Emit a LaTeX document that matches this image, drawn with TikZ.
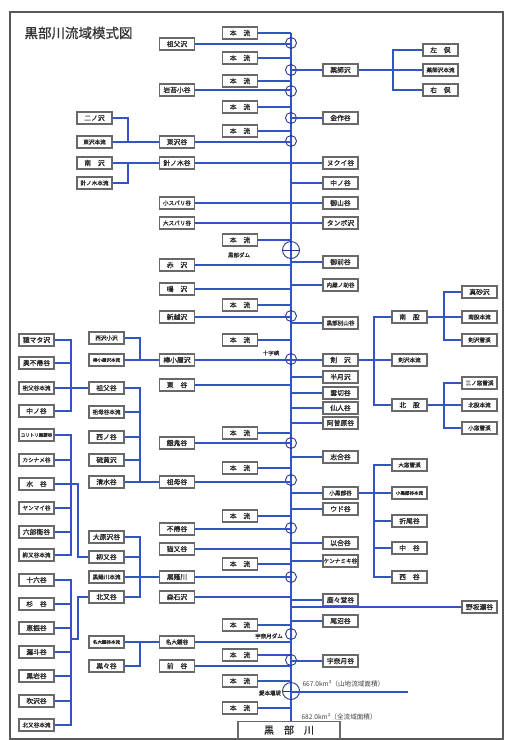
\documentclass[tikz,border=0pt]{standalone}
\usepackage{fontspec}
\setmainfont{Noto Sans CJK JP}
\newfontfamily\jpbold{Noto Sans CJK JP}[FakeBold=0.8]
\usetikzlibrary{positioning,calc}
\definecolor{rivblue}{RGB}{50,85,195}
\definecolor{junc}{RGB}{40,55,135}
\definecolor{boxline}{RGB}{105,105,105}

\begin{document}
\begin{tikzpicture}[x=1pt,y=-1pt,
  box/.style={draw=boxline, line width=1.2pt, fill=white, minimum width=35pt, minimum height=12pt, inner sep=0pt, text=black!85, font=\jpbold\fontsize{6.8}{7}\selectfont},
  sbox/.style={box, font=\jpbold\fontsize{5.6}{6}\selectfont},
  tbox/.style={box, font=\jpbold\fontsize{4.5}{5}\selectfont},
  riv/.style={draw=rivblue, line width=1.2pt},
  jn/.style={circle, draw=junc, line width=0.9pt, minimum size=11pt, inner sep=0pt},
  dam/.style={jn, minimum size=17pt, path picture={\draw[junc, line width=0.9pt] (path picture bounding box.west) -- (path picture bounding box.east);}},
  tag/.style={font=\jpbold\fontsize{5.5}{6}\selectfont, text=black!85},
  area/.style={font=\fontsize{6.6}{7}\selectfont, text=black!75}
]
\useasboundingbox (0,0) rectangle (509,740);

% Frame and title
\draw[black!65, line width=1.3pt] (10,12) rectangle (503,739);
\node[font=\jpbold\fontsize{13.5}{14}\selectfont, text=black!80, anchor=west] (title) at (21,33) {黒部川流域模式図};

% Main stream
\coordinate (trunk) at (291,33);
\node[box, minimum width=102pt, minimum height=17pt, font=\jpbold\fontsize{10}{11}\selectfont] (kurobe) at (289,730) {黒　部　川};
\draw[riv] (trunk) -- (trunk |- kurobe.north);
\foreach \y [count=\i] in {33,58,81,107,131,240,305,340,433,468,516,564,625,655,681,708} {
  \node[box] (hon\i) at (240,\y) {本　流};
  \draw[riv] (hon\i) -- (hon\i -| trunk);
}
\foreach \y [count=\i] in {43,70,91,118,141,316,359,443,480,528,577,634,660}
  \node[jn] (j\i) at (291,\y) {};
\node[dam] (damK) at (291,250) {};
\node[dam] (damA) at (291,691) {};
\node[tag] (lkurobe) at (239,255) {黒部ダム};
\node[tag] (ljuji) at (271,353) {十字峡};
\node[tag] (lunazuki) at (269,636) {宇奈月ダム};
\node[tag] (laimoto) at (270,693) {愛本堰堤};

% Junction columns
\coordinate (jA) at (71,0);
\coordinate (jA2) at (78,0);
\coordinate (jE) at (128,0);
\coordinate (jB) at (140,0);
\coordinate (jF) at (374,0);
\coordinate (jY) at (393,0);
\coordinate (jH) at (444,0);

% Left tributaries
\node[box] (sofusawa) at (177,44) {祖父沢};
\node[box] (iwagoke) at (177,90) {岩苔小谷};
\node[box] (higashidani) at (177,142) {東沢谷};
\node[box] (harinoki) at (177,163) {針ノ木谷};
\node[sbox] (kosubari) at (177,203) {小スバリ谷};
\node[sbox] (osubari) at (177,223) {大スバリ谷};
\node[box] (akazawa) at (177,265) {赤　沢};
\node[box] (narusawa) at (177,289) {鳴　沢};
\node[box] (shinkoshi) at (177,317) {新越沢};
\node[box] (bokoya) at (177,360) {棒小屋沢};
\node[box] (higashitani) at (177,385) {東　谷};
\node[box] (gaki) at (177,443) {餓鬼谷};
\node[box] (sobodani) at (177,482) {祖母谷};
\node[box] (fukaeri) at (177,529) {不帰谷};
\node[box] (nekomata) at (177,549) {猫又谷};
\node[box] (kuronagi) at (177,577) {黒薙川};
\node[box] (moriishi) at (177,597) {森石沢};
\node[sbox] (otaki) at (177,642) {名大鍾谷};
\node[box] (maetani) at (177,666) {前　谷};
\foreach \n in {sofusawa,iwagoke,higashidani,kosubari,osubari,akazawa,narusawa,shinkoshi,higashitani,gaki,sobodani,fukaeri,nekomata,kuronagi,moriishi,otaki,maetani}
  \draw[riv] (\n) -- (\n -| trunk);

% Right tributaries
\node[box] (yakushi) at (340.5,70) {薬師沢};
\node[box] (kinsaku) at (340.5,118) {金作谷};
\node[box] (nukui) at (340.5,163) {ヌクイ谷};
\node[box] (nakanotani) at (340.5,183) {中ノ谷};
\node[box] (oyama) at (340.5,203) {御山谷};
\node[box] (tanbo) at (340.5,223) {タンボ沢};
\node[box] (gozen) at (340.5,262) {御前谷};
\node[sbox] (kuranosuke) at (340.5,285) {内蔵ノ助谷};
\node[sbox] (bessan) at (340.5,323) {黒部別山谷};
\node[box] (tsurugi) at (340.5,360) {剣　沢};
\node[box] (hangetsu) at (340.5,377) {半月沢};
\node[box] (kumokiri) at (340.5,393) {雲切谷};
\node[box] (sennin) at (340.5,408) {仙人谷};
\node[box] (asohara) at (340.5,423) {阿曽原谷};
\node[box] (shiai) at (340.5,457) {志合谷};
\node[sbox] (kokurobe) at (340.5,493) {小黒部谷};
\node[box] (udo) at (340.5,509) {ウド谷};
\node[box] (igo) at (340.5,543) {以合谷};
\node[sbox] (kennami) at (340.5,561) {ケンナミキ谷};
\node[box] (kaga) at (340.5,600) {鹿々堂谷};
\node[box] (onuma) at (340.5,621) {尾沼谷};
\node[box] (unazuki) at (340.5,661) {宇奈月谷};
\node[box] (nosaka) at (479.5,607) {野坂瀬谷};
\foreach \n in {yakushi,kinsaku,nakanotani,gozen,kuranosuke,bessan,hangetsu,kumokiri,sennin,asohara,shiai,kokurobe,udo,igo,kennami,kaga,onuma,unazuki,nosaka}
  \draw[riv] (trunk |- \n) -- (\n);
\draw[riv] (harinoki) -- (nukui);
\draw[riv] (kosubari) -- (oyama);
\draw[riv] (osubari) -- (tanbo);
\draw[riv] (bokoya) -- (tsurugi);

% Yakushi-zawa
\node[box] (hidarimata) at (440.5,50) {左　俣};
\node[sbox] (yakushihon) at (440.5,70) {薬師沢本流};
\node[box] (migimata) at (440.5,90) {右　俣};
\draw[riv] (yakushi) -- (yakushihon);
\draw[riv] (hidarimata) -| (jY |- migimata) -- (migimata);

% Higashi-zawa and Harinoki
\node[box] (ninosawa) at (94.5,118) {二ノ沢};
\node[sbox] (higashihon) at (94.5,142) {東沢本流};
\node[box] (minamisawa) at (94.5,163) {南　沢};
\node[sbox] (harinokihon) at (94.5,183) {針ノ木本流};
\draw[riv] (ninosawa) -| (jE |- higashihon);
\draw[riv] (higashihon) -- (higashidani);
\draw[riv] (minamisawa) -- (harinoki);
\draw[riv] (harinokihon) -| (jE |- minamisawa);

% Tsurugi-zawa
\node[box] (minamimata) at (409.5,317) {南　股};
\node[sbox] (tsurugihon) at (409.5,360) {剣沢本流};
\node[box] (kitamataF) at (409.5,405) {北　股};
\node[box] (masago) at (479.5,292) {真砂沢};
\node[sbox] (minamihon) at (479.5,317) {南股本流};
\node[sbox] (tsurugisekkei) at (479.5,340) {剣沢雪渓};
\node[sbox] (sannomado) at (479.5,383) {三ノ窓雪渓};
\node[sbox] (kitahon) at (479.5,405) {北股本流};
\node[sbox] (komado) at (479.5,428) {小窓雪渓};
\draw[riv] (tsurugi) -- (tsurugihon);
\draw[riv] (minamimata) -| (jF |- kitamataF) -- (kitamataF);
\draw[riv] (minamimata) -- (minamihon);
\draw[riv] (masago) -| (jH |- tsurugisekkei) -- (tsurugisekkei);
\draw[riv] (kitamataF) -- (kitahon);
\draw[riv] (sannomado) -| (jH |- komado) -- (komado);

% Kurobe-dani (Kokurobe)
\node[sbox] (omado) at (409.5,465) {大窓雪渓};
\node[tbox] (kokurobehon) at (409.5,493) {小黒部谷本流};
\node[box] (oritani) at (409.5,521) {折尾谷};
\node[box] (nakatani) at (409.5,548) {中　谷};
\node[box] (nishitani) at (409.5,577) {西　谷};
\draw[riv] (kokurobe) -- (kokurobehon);
\draw[riv] (omado) -| (jF |- nishitani) -- (nishitani);
\draw[riv] (oritani) -- (oritani -| jF);
\draw[riv] (nakatani) -- (nakatani -| jF);

% Bokoya-zawa
\node[sbox] (nishisawa) at (106.5,338) {西沢小沢};
\node[tbox] (bokoyahon) at (106.5,360) {棒小屋沢本流};
\draw[riv] (nishisawa) -| (jB |- bokoyahon);
\draw[riv] (bokoyahon) -- (bokoya);

% Sofu-dani and Sobo-dani
\node[box] (saru) at (36.5,340) {猿マタ沢};
\node[box] (okufukae) at (36.5,363) {奥不帰谷};
\node[sbox] (sofuhon) at (36.5,388) {祖父谷本流};
\node[box] (nakanoA) at (36.5,411) {中ノ谷};
\node[box] (sofudani) at (106.5,388) {祖父谷};
\node[sbox] (sobohon) at (106.5,412) {祖母谷本流};
\node[box] (nishinotani) at (106.5,437) {西ノ谷};
\node[box] (io) at (106.5,460) {硫黄沢};
\node[box] (shimizu) at (106.5,482) {清水谷};
\draw[riv] (saru) -| (jA |- nakanoA) -- (nakanoA);
\draw[riv] (okufukae) -- (okufukae -| jA);
\draw[riv] (sofuhon) -- (sofudani);
\draw[riv] (sofudani) -| (jB |- shimizu) -- (shimizu);
\draw[riv] (sobohon) -- (sobohon -| jB);
\draw[riv] (nishinotani) -- (nishinotani -| jB);
\draw[riv] (io) -- (io -| jB);
\draw[riv] (shimizu) -- (sobodani);

% Kuronagi-gawa
\node[tbox] (yoshi) at (36.5,435) {ヨリトリ黒菱谷};
\node[sbox] (kashi) at (36.5,460) {カシナメ谷};
\node[box] (mizu) at (36.5,484) {水　谷};
\node[sbox] (yanmai) at (36.5,508) {ヤンマイ谷};
\node[box] (rokuro) at (36.5,532) {六郎衛谷};
\node[sbox] (yanagihon) at (36.5,555) {柳又谷本流};
\node[box] (ohara) at (106.5,537) {大原沢谷};
\node[box] (yanagimata) at (106.5,557) {柳又谷};
\node[sbox] (kuronagihon) at (106.5,577) {黒薙川本流};
\node[box] (kitamata) at (106.5,597) {北又谷};
\draw[riv] (yoshi) -| (jA |- yanagihon) -- (yanagihon);
\draw[riv] (kashi) -- (kashi -| jA);
\draw[riv] (yanmai) -- (yanmai -| jA);
\draw[riv] (rokuro) -- (rokuro -| jA);
\draw[riv] (mizu) -| (jA2 |- yanagimata) -- (yanagimata);
\draw[riv] (ohara) -| (jB |- kitamata) -- (kitamata);
\draw[riv] (yanagimata) -- (yanagimata -| jB);
\draw[riv] (kuronagihon) -- (kuronagi);

% Kitamata-dani
\node[box] (juroku) at (36.5,580) {十六谷};
\node[box] (sugi) at (36.5,604) {杉　谷};
\node[box] (ebu) at (36.5,628) {恵振谷};
\node[box] (joro) at (36.5,652) {漏斗谷};
\node[box] (kuroiwa) at (36.5,676) {黒岩谷};
\node[box] (fukisawa) at (36.5,701) {吹沢谷};
\node[sbox] (kitamatahon) at (36.5,725) {北又谷本流};
\coordinate (jA3) at (71,639);
\draw[riv] (juroku) -| (jA |- kitamatahon) -- (kitamatahon);
\foreach \n in {sugi,ebu,joro,kuroiwa,fukisawa}
  \draw[riv] (\n) -- (\n -| jA);
\draw[riv] (jA3) -- (jA3 -| jA2) |- (kitamata);

% Lower reach
\node[tbox] (otakihon) at (106.5,642) {名大鍾谷本流};
\node[box] (kurokuro) at (106.5,666) {黒々谷};
\draw[riv] (otakihon) -- (otaki);
\draw[riv] (kurokuro) -| (jB |- otakihon);

% Basin area
\coordinate (areaEnd) at (408,692);
\draw[riv] (trunk |- areaEnd) -- (areaEnd);
\node[area, anchor=south west] (sanchi) at (299,691) {667.0km²（山地流域面積）};
\node[area, anchor=west] (zenryu) at (298,717) {682.0km²（全流域面積）};
\end{tikzpicture}
\end{document}
